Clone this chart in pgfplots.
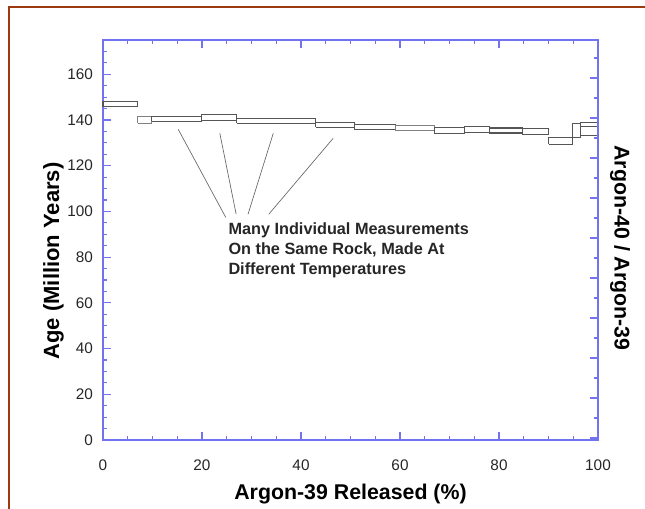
\documentclass[border=0pt]{standalone}
\usepackage{pgfplots}
\pgfplotsset{compat=1.18}
\usepackage{fontspec}
\setmainfont{Liberation Sans}
\definecolor{AxisBlue}{HTML}{7373F2}
\definecolor{BoxGray}{HTML}{555555}
\definecolor{Frame}{HTML}{9C3A10}
\begin{document}
\begin{tikzpicture}
% page = 645x508 px at 0.75pt per px, axis corner at (0,0)
\path[use as bounding box] (-77.25pt,-51pt) rectangle (406.5pt,330pt);
\draw[Frame, line width=1.5pt] (-70.5pt,-52pt) -- (-70.5pt,324.75pt) -- (407pt,324.75pt);
\begin{axis}[
  name=ax,
  scale only axis,
  width=371.25pt, height=300pt,
  xmin=0, xmax=100, ymin=0, ymax=175,
  clip=false,
  axis line style={AxisBlue, line width=0.9pt},
  every tick/.style={AxisBlue, line width=0.9pt},
  tick align=inside,
  major tick length=6pt, minor tick length=3pt,
  xtick={0,20,...,100}, minor xtick={5,10,...,95}, xtick pos=both,
  ytick={0,20,...,160}, minor ytick={5,10,...,170}, ytick pos=left,
  tick label style={font=\fontsize{11.5}{13}\selectfont, text=black!85},
  /pgf/number format/assume math mode=true,
  xticklabel style={yshift=-11.5pt},
  yticklabel style={xshift=-4pt},
  xlabel={Argon-39 Released (\%)},
  ylabel={Age (Million Years)},
  xlabel style={font=\bfseries\fontsize{16}{18}\selectfont,
    at={(axis description cs:0.5,0)}, anchor=center, yshift=-40.5pt},
  ylabel style={font=\bfseries\fontsize{16.5}{18}\selectfont,
    at={(axis description cs:-0.1,0.4475)}, anchor=center},
  box/.style={BoxGray, line width=0.8pt, mark=none, solid},
]
% step-heating boxes: x0 x1, age low / high
\addplot[box] coordinates {(0,145.8) (7,145.8) (7,148.2) (0,148.2) (0,145.8)};
\addplot[box, gray] coordinates {(7,138.6) (9.8,138.6) (9.8,141.4) (7,141.4) (7,138.6)};
\addplot[box] coordinates {(9.8,139.4) (19.9,139.4) (19.9,141.6) (9.8,141.6) (9.8,139.4)};
\addplot[box] coordinates {(19.9,139.8) (27,139.8) (27,142.4) (19.9,142.4) (19.9,139.8)};
\addplot[box] coordinates {(27,138.6) (43,138.6) (43,140.8) (27,140.8) (27,138.6)};
\addplot[box] coordinates {(43,136.9) (50.9,136.9) (50.9,139.1) (43,139.1) (43,136.9)};
\addplot[box] coordinates {(50.9,135.7) (59,135.7) (59,138.2) (50.9,138.2) (50.9,135.7)};
\addplot[box, gray] coordinates {(59,135.3) (66.9,135.3) (66.9,137.6) (59,137.6) (59,135.3)};
\addplot[box] coordinates {(66.9,134.0) (73,134.0) (73,136.8) (66.9,136.8) (66.9,134.0)};
\addplot[box] coordinates {(73,134.4) (78,134.4) (78,137.1) (73,137.1) (73,134.4)};
\addplot[box] coordinates {(78,134.3) (84.7,134.3) (84.7,136.5) (78,136.5) (78,134.3)};
\addplot[box] coordinates {(84.7,133.8) (90,133.8) (90,136.2) (84.7,136.2) (84.7,133.8)};
\addplot[box] coordinates {(90,129.4) (94.8,129.4) (94.8,132.4) (90,132.4) (90,129.4)};
\addplot[box] coordinates {(94.8,132.2) (96.4,132.2) (96.4,138.3) (94.8,138.3) (94.8,132.2)};
\addplot[box] coordinates {(96.4,133.4) (100,133.4) (100,138.8) (96.4,138.8) (96.4,133.4)};
\addplot[box] coordinates {(96.4,133.4) (100,133.4) (100,137.2) (96.4,137.2) (96.4,133.4)};
% pointer lines
\draw[gray!80!black, line width=0.5pt] (axis cs:15.2,135.9) -- (axis cs:24.8,97.4);
\draw[gray!80!black, line width=0.5pt] (axis cs:23.6,134.2) -- (axis cs:26.9,98.8);
\draw[gray!80!black, line width=0.5pt] (axis cs:34.4,134.2) -- (axis cs:29.3,98.8);
\draw[gray!80!black, line width=0.5pt] (axis cs:46.5,132.0) -- (axis cs:33.5,98.8);
\node[anchor=north west, inner sep=0pt, align=left, text=black!85,
  font=\bfseries\fontsize{12.2}{15}\selectfont] at (axis cs:25.3,95.4)
  {Many Individual Measurements\\On the Same Rock, Made At\\Different Temperatures};
\node[rotate=-90, anchor=center, font=\bfseries\fontsize{16}{18}\selectfont]
  at (axis description cs:1.0444,0.48) {Argon-40 / Argon-39};
\end{axis}
% right-hand ratio scale: ticks only
\begin{axis}[
  scale only axis,
  width=371.25pt, height=300pt,
  xmin=0, xmax=100, ymin=0, ymax=400,
  hide x axis,
  axis y line*=right,
  axis line style={AxisBlue, line width=0.9pt},
  every tick/.style={AxisBlue, line width=0.9pt},
  tick align=inside,
  major tick length=6pt, minor tick length=3pt,
  ytick={2,42,...,362}, minor ytick={22,62,...,382},
  yticklabels={},
]
\addplot[draw=none] coordinates {(0,0) (100,400)};
\end{axis}
\end{tikzpicture}
\end{document}
